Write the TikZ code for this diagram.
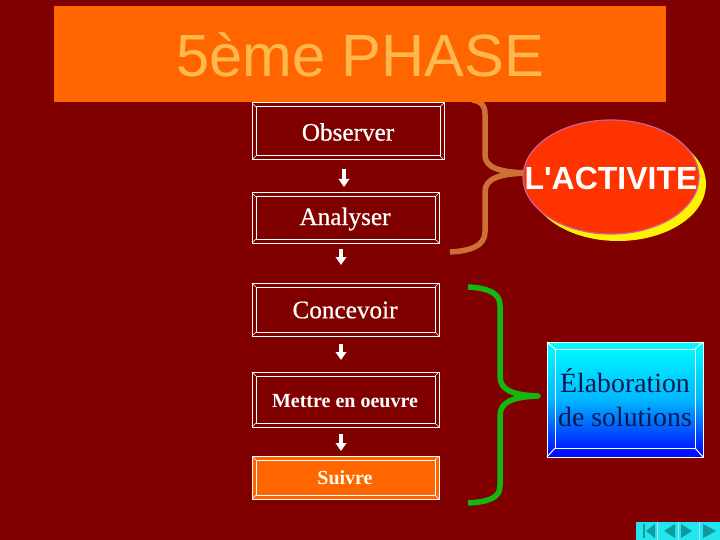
\documentclass[tikz,border=0pt]{standalone}
\usepackage{fontspec}
\setmainfont{Liberation Serif}
\newfontfamily\arialf{Liberation Sans}
\newfontfamily\semibold[FakeBold=0.6]{Liberation Serif}
\usetikzlibrary{arrows.meta,shapes.geometric}
\definecolor{bgred}{HTML}{800000}
\definecolor{bannerorange}{HTML}{FF6600}
\definecolor{bannertext}{HTML}{FFB84D}
\definecolor{bracebrown}{HTML}{CC7033}
\definecolor{bracegreen}{HTML}{10B810}
\definecolor{ovalred}{HTML}{FF3300}
\definecolor{ovalline}{HTML}{CC5FA0}
\definecolor{navtext}{HTML}{0A1A50}
\definecolor{navteal}{HTML}{109AA0}
\definecolor{navcyan}{HTML}{22E6EE}
\tikzset{
  bigstep/.style={text=white,font=\semibold\fontsize{25.2}{27}\selectfont,inner sep=0pt},
  smallstep/.style={text=white,font=\bfseries\fontsize{20}{22}\selectfont,inner sep=0pt},
  flowarrow/.style={white,line width=4pt,-{Triangle[width=10.5pt,length=8pt]}},
  bracestroke/.style={line width=5.5pt,line cap=butt,line join=round},
  navbtn/.style={fill=navcyan,draw=none},
  navglyph/.style={fill=navteal,draw=none},
}
\newcommand{\framedbox}[5]{% x0, y0, x1, y1, fill
  \fill[#5] (#1,#2) rectangle (#3,#4);
  \draw[white,line width=1pt] (#1,#2) rectangle (#3,#4);
  \draw[white,line width=1pt] ({#1+4},{#2+4}) rectangle ({#3-4},{#4-4});
  \draw[white,line width=.6pt] (#1,#2) -- ({#1+4},{#2+4}) (#3,#2) -- ({#3-4},{#2+4}) (#1,#4) -- ({#1+4},{#4-4}) (#3,#4) -- ({#3-4},{#4-4});
}
\begin{document}
\begin{tikzpicture}[x=1pt,y=-1pt]
\useasboundingbox (0,0) rectangle (720,540);
\fill[bgred] (0,0) rectangle (720,540);

% orange brace (behind banner and oval)
\draw[bracebrown,bracestroke] (472,100) .. controls (481,101) and (485,105) .. (485,114)
  -- (485,155) .. controls (485,168) and (500,172) .. (526,173)
  .. controls (500,174) and (485,178) .. (485,192)
  -- (485,232) .. controls (485,246) and (470,251) .. (450,252);

% banner
\fill[bannerorange] (54,6) rectangle (666,102);
\node[text=bannertext,font=\arialf\fontsize{59.6}{62}\selectfont,inner sep=0pt] (title) at (360,55) {5ème PHASE};

% boxes
\framedbox{252}{103}{444}{160}{bgred}
\framedbox{252}{193}{439}{243}{bgred}
\framedbox{252}{283}{439}{336}{bgred}
\framedbox{252}{372}{439}{427}{bgred}
\framedbox{252}{456}{439}{499}{bannerorange}
\node[bigstep] (observer) at (348,132) {Observer};
\node[bigstep] (analyser) at (345,219) {Analyser};
\node[bigstep] (concevoir) at (345,310) {Concevoir};
\node[smallstep] (mettre) at (345,401) {Mettre en oeuvre};
\node[smallstep,text=white!90!yellow] (suivre) at (345,478) {Suivre};

% arrows
\coordinate (a1s) at (344,169); \coordinate (a1e) at (344,187);
\coordinate (a2s) at (341,249); \coordinate (a2e) at (341,265);
\coordinate (a3s) at (341,344); \coordinate (a3e) at (341,360);
\coordinate (a4s) at (341,434); \coordinate (a4e) at (341,451);
\draw[flowarrow] (a1s) -- (a1e);
\draw[flowarrow] (a2s) -- (a2e);
\draw[flowarrow] (a3s) -- (a3e);
\draw[flowarrow] (a4s) -- (a4e);

% green brace
\draw[bracegreen,bracestroke] (468,287) .. controls (488,288) and (500,293) .. (500,305)
  -- (500,376) .. controls (500,390) and (512,395) .. (538,396)
  .. controls (512,397) and (500,402) .. (500,416)
  -- (500,486) .. controls (500,498) and (488,502) .. (468,503);

% oval
\fill[yellow] (618,184) ellipse [x radius=88,y radius=57];
\draw[ovalline,fill=ovalred,line width=1.2pt] (611,177) ellipse [x radius=88,y radius=57];
\node[text=white,font=\arialf\bfseries\fontsize{32}{36}\selectfont,inner sep=0pt] (activite) at (611,178) {L'ACTIVITE};

% solution box
\shade[top color=cyan,bottom color=blue,middle color=cyan!72!blue] (547,342) rectangle (703,457);
\draw[white,line width=1pt] (547,342) rectangle (703,457);
\draw[white,line width=1pt] (555,349) rectangle (695,448);
\draw[white,line width=1pt] (547,342) -- (555,349) (703,342) -- (695,349) (547,457) -- (555,448) (703,457) -- (695,448);
\node[text=navtext,font=\fontsize{27.8}{34}\selectfont,align=center,inner sep=0pt] (elab) at (625,398) {Élaboration\\de solutions};

% nav buttons
\fill[navbtn] (636,522) rectangle (720,540);
\draw[white!70!cyan,line width=.8pt] (657,522) -- (657,540) (678,522) -- (678,540) (699,522) -- (699,540);
\fill[navglyph] (643,524) rectangle (645,538);
\fill[navglyph] (646,531) -- (655,524) -- (655,538) -- cycle;
\fill[navglyph] (664,531) -- (675,524) -- (675,538) -- cycle;
\fill[navglyph] (681,524) -- (692,531) -- (681,538) -- cycle;
\fill[navglyph] (703,524) -- (716,531) -- (703,538) -- cycle;
\end{tikzpicture}
\end{document}
